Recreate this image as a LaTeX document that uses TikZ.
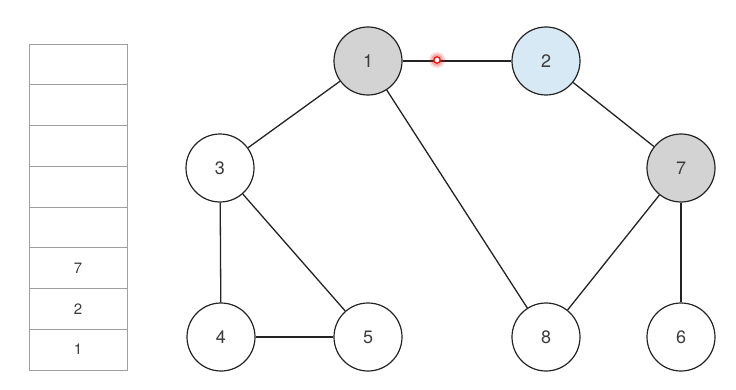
\documentclass[tikz,border=0pt]{standalone}
\usepackage{tikz}
\usepackage{xcolor}
\usepackage{fontspec}
\setmainfont{TeX Gyre Heros}
\definecolor{visitgrey}{RGB}{211, 211, 211}
\definecolor{currentblue}{RGB}{214, 233, 245}
\definecolor{edgegrey}{RGB}{35, 35, 35}
\definecolor{labelgrey}{RGB}{60, 60, 60}
\definecolor{pointerred}{RGB}{235, 20, 20}

\begin{document}
\begin{tikzpicture}[x=1pt, y=1pt,
    vertex/.style={circle, draw=edgegrey, line width=1.2pt, minimum size=68pt,
        inner sep=0pt, text=labelgrey, font=\fontsize{18}{18}\selectfont},
    edge/.style={draw=edgegrey, line width=1.3pt},
    cell/.style={draw=gray!75, line width=0.7pt, minimum width=98pt,
        minimum height=40.75pt, inner sep=0pt, text=labelgrey,
        font=\fontsize{15}{15}\selectfont}]
    \useasboundingbox (0, 0) rectangle (736, 389);

    % stack
    \node[cell] (s8) at (78, 39.4) {1};
    \node[cell] (s7) at (78, 80.1) {2};
    \node[cell] (s6) at (78, 120.9) {7};
    \node[cell] (s5) at (78, 161.6) {};
    \node[cell] (s4) at (78, 202.4) {};
    \node[cell] (s3) at (78, 243.1) {};
    \node[cell] (s2) at (78, 283.9) {};
    \node[cell] (s1) at (78, 324.6) {};

    % graph vertices
    \node[vertex, fill=visitgrey] (v1) at (368, 328) {1};
    \node[vertex, fill=currentblue] (v2) at (546, 328) {2};
    \node[vertex, fill=white] (v3) at (220, 221) {3};
    \node[vertex, fill=visitgrey] (v7) at (681, 221) {7};
    \node[vertex, fill=white] (v4) at (221, 52) {4};
    \node[vertex, fill=white] (v5) at (368, 52) {5};
    \node[vertex, fill=white] (v8) at (546, 52) {8};
    \node[vertex, fill=white] (v6) at (681, 52) {6};

    % edges
    \draw[edge] (v1) -- (v2);
    \draw[edge] (v1) -- (v3);
    \draw[edge] (v1) -- (v8);
    \draw[edge] (v2) -- (v7);
    \draw[edge] (v3) -- (v4);
    \draw[edge] (v3) -- (v5);
    \draw[edge] (v4) -- (v5);
    \draw[edge] (v7) -- (v8);
    \draw[edge] (v7) -- (v6);

    % pointer
    \coordinate (pointer) at (437, 329);
    \fill[pointerred, opacity=0.15] (pointer) circle (8);
    \fill[pointerred, opacity=0.25] (pointer) circle (6);
    \draw[pointerred, line width=1.3pt, fill=white] (pointer) circle (3.2);
\end{tikzpicture}
\end{document}
